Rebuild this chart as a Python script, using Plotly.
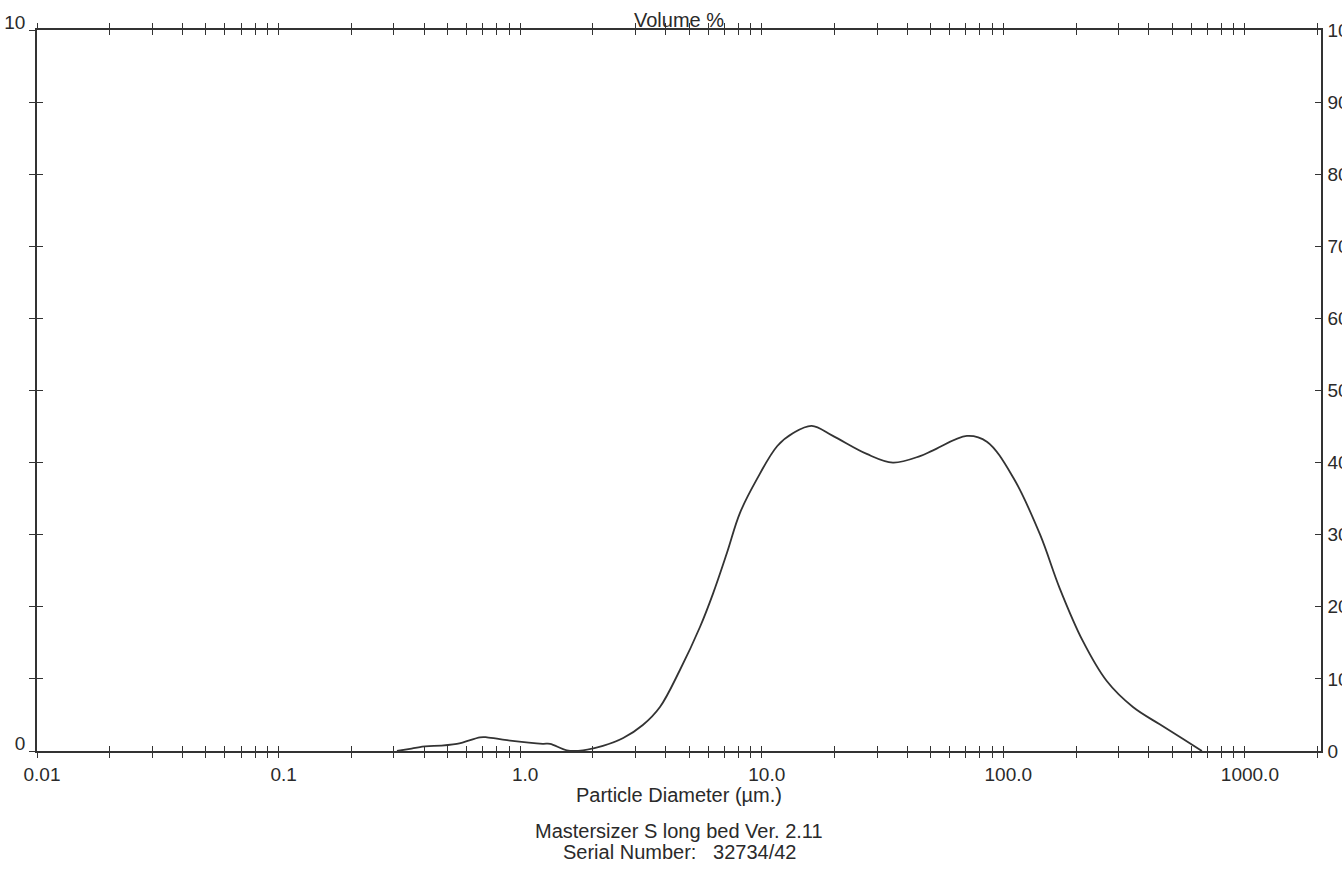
import plotly.graph_objects as go

# ---- data ----
diameter_um = [0.309, 0.350, 0.385, 0.547, 0.682, 0.729, 0.882, 1.24, 1.33, 1.56, 1.82,
               2.20, 2.67, 3.22, 3.79, 4.58, 5.55, 6.28, 7.18, 8.12, 9.55, 11.6, 13.5,
               16.1, 19.7, 27.2, 34.9, 45.2, 51.2, 70.7, 85.5, 110, 142, 171, 213, 268,
               344, 444, 553, 664]
volume_pct = [0, 0.03, 0.055, 0.10, 0.19, 0.19, 0.15, 0.10, 0.10, 0.01, 0.01,
              0.07, 0.18, 0.36, 0.61, 1.12, 1.72, 2.18, 2.75, 3.30, 3.77, 4.23, 4.41,
              4.51, 4.37, 4.12, 4.00, 4.09, 4.17, 4.37, 4.29, 3.79, 3.00, 2.26, 1.53, 0.97,
              0.61, 0.37, 0.17, 0]

decades = [0.01, 0.1, 1, 10, 100, 1000]
decade_labels = ["0.01", "0.1", "1.0", "10.0", "100.0", "1000.0"]
x_tickvals = []
x_ticktext = []
for d, lab in zip(decades, decade_labels):
    for k in range(1, 10):
        v = d * k
        if v > 2000:
            break
        x_tickvals.append(v)
        x_ticktext.append(lab if k == 1 else "")
x_tickvals.append(2000)
x_ticktext.append("")

left_tickvals = list(range(0, 11))
left_ticktext = ["0"] + [""] * 9 + ["10"]
right_tickvals = list(range(0, 101, 10))
right_ticktext = [str(v) for v in right_tickvals]

title_text = "Volume %"
x_title = "Particle Diameter (µm.)"
footer_lines = ["Mastersizer S long bed Ver. 2.11", "Serial Number:   32734/42"]

# ---- styling ----
ink = "#333333"
txt = "#2a2a2a"
FONT = "Liberation Sans, Arial, sans-serif"
xrange_log = [-2, 3.315]

fig = go.Figure()
fig.add_trace(go.Scatter(x=diameter_um, y=volume_pct, mode="lines",
                         line=dict(color=ink, width=1.8, shape="spline", smoothing=1.0),
                         xaxis="x", yaxis="y", showlegend=False, hoverinfo="skip"))
# invisible companions so the overlay axes are drawn
for xa, ya in [("x2", "y2"), ("x3", "y3"), ("x4", "y2")]:
    fig.add_trace(go.Scatter(x=diameter_um, y=volume_pct, mode="lines",
                             line=dict(width=0, color="rgba(0,0,0,0)"),
                             xaxis=xa, yaxis=ya, showlegend=False, hoverinfo="skip"))

common_x = dict(type="log", range=xrange_log, tickmode="array", tickvals=x_tickvals,
                showgrid=False, zeroline=False, tickcolor=ink, tickwidth=1.3, ticklen=5,
                automargin=False)

fig.update_layout(
    width=1342, height=869,
    margin=dict(l=37, r=21, t=30, b=118, autoexpand=False),
    paper_bgcolor="white", plot_bgcolor="white",
    font=dict(family=FONT, size=19, color=txt),
    xaxis=dict(**common_x, ticktext=x_ticktext, ticks="outside", side="bottom",
               showline=True, linecolor=ink, linewidth=1.5, anchor="y",
               tickfont=dict(size=19, color=txt), ticklabelshift=5),
    xaxis2=dict(**common_x, ticktext=[""] * len(x_tickvals), ticks="inside", side="bottom",
                overlaying="x", anchor="y", showline=False, showticklabels=False),
    xaxis3=dict(**common_x, ticktext=[""] * len(x_tickvals), ticks="outside", side="top",
                overlaying="x", anchor="y", showline=True, linecolor=ink, linewidth=1.5,
                showticklabels=False),
    xaxis4=dict(**common_x, ticktext=[""] * len(x_tickvals), ticks="inside", side="top",
                overlaying="x", anchor="y", showline=False, showticklabels=False),
    yaxis=dict(range=[0, 10], tickmode="array", tickvals=left_tickvals, ticktext=left_ticktext,
               ticks="outside", ticklen=6, tickwidth=1.3, tickcolor=ink, showgrid=False,
               zeroline=False, showline=True, linecolor=ink, linewidth=1.5, side="left",
               anchor="x", ticklabelshift=-8, automargin=False,
               tickfont=dict(size=19, color=txt)),
    yaxis2=dict(range=[0, 10], tickmode="array", tickvals=left_tickvals,
                ticktext=[""] * len(left_tickvals), ticks="inside", ticklen=6, tickwidth=1.3,
                tickcolor=ink, showgrid=False, zeroline=False, showline=False, automargin=False,
                overlaying="y", side="left", anchor="x", showticklabels=False),
    yaxis3=dict(range=[0, 100], tickmode="array", tickvals=right_tickvals,
                ticktext=right_ticktext, ticks="inside", ticklen=6, tickwidth=1.3,
                tickcolor=ink, showgrid=False, zeroline=False, showline=True, automargin=False,
                linecolor=ink, linewidth=1.5, overlaying="y", side="right", anchor="x",
                ticklabelstandoff=1, tickfont=dict(size=19, color=txt)),
)

fig.add_annotation(text=title_text, xref="paper", yref="paper", x=0.5, y=1.0,
                   xanchor="center", yanchor="middle", yshift=10, showarrow=False,
                   font=dict(size=20, color=txt))
fig.add_annotation(text=x_title, xref="paper", yref="paper", x=0.5, y=0,
                   xanchor="center", yanchor="middle", yshift=-44, showarrow=False,
                   font=dict(size=20, color=txt))
for i, line in enumerate(footer_lines):
    fig.add_annotation(text=line, xref="paper", yref="paper", x=0.5, y=0,
                       xanchor="center", yanchor="middle", yshift=-80 - 21 * i,
                       showarrow=False, font=dict(size=20, color=txt))

fig.write_html("out.html")
